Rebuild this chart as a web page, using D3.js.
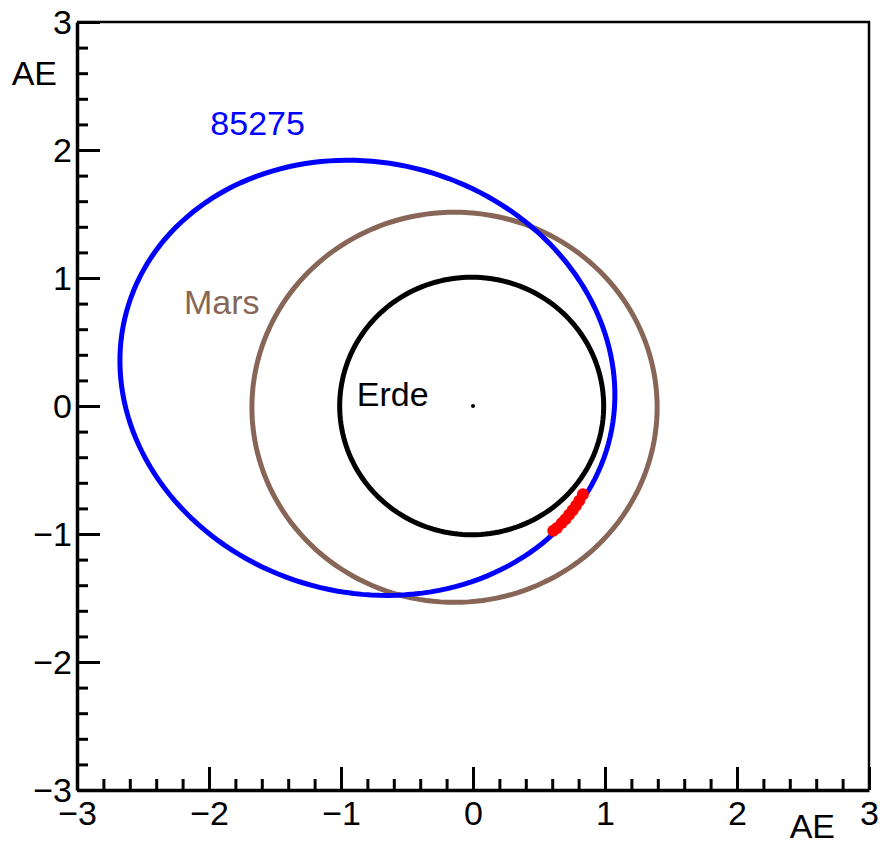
<!DOCTYPE html>
<html>
<head>
<meta charset="utf-8">
<script src="https://cdn.jsdelivr.net/npm/d3@7"></script>
<style>
  body { margin: 0; background: #fff; }
  text { font-family: "Liberation Sans", Arial, sans-serif; }
</style>
</head>
<body>
<div id="chart"></div>
<script>
var svgWidth = 880;
var svgHeight = 841;

// orbits (AE): ellipse centre, semi-axes, tilt of first axis
var orbitNames = ["Erde", "Mars", "85275"];
var centerX = [-0.01, -0.14, -0.80];
var centerY = [0.0, -0.01, 0.22];
var semiA = [1.0, 1.535, 1.898];
var semiB = [1.006, 1.524, 1.674];
var tiltDeg = [0, 0, -19.3];
var orbitColors = ["#000000", "#876657", "#0000ff"];

// observed positions of 85275 (red)
var obsX = [0.608, 0.636, 0.672, 0.700, 0.728, 0.755, 0.780, 0.805, 0.833];
var obsY = [-0.975, -0.953, -0.915, -0.885, -0.850, -0.815, -0.780, -0.740, -0.690];

// sun
var sunX = [0];
var sunY = [0];

var majorTicks = [-3, -2, -1, 0, 1, 2, 3];

var x = d3.scaleLinear().domain([-3, 3]).range([77, 869]);
var y = d3.scaleLinear().domain([-3, 3]).range([790, 22]);

var fontSize = "34px";

var svg = d3.select("#chart")
  .append("svg")
  .attr("width", svgWidth)
  .attr("height", svgHeight);

// frame top / right
svg.append("path")
  .attr("d", `M${x(-3)},${y(3)}H${x(3)}V${y(-3)}`)
  .attr("fill", "none")
  .attr("stroke", "#000")
  .attr("stroke-width", 2.5);

var minorTicks = d3.range(-30, 31, 2).map(d => d / 10).filter(d => Math.abs(d % 1) > 0.01);

function fmt(d) { return d < 0 ? "\u2212" + Math.abs(d) : "" + d; }

// minor ticks
svg.append("g")
  .attr("transform", `translate(0,${y(-3)})`)
  .call(d3.axisBottom(x).tickValues(minorTicks).tickSize(-11).tickSizeOuter(0).tickFormat(""))
  .call(g => g.select(".domain").remove())
  .call(g => g.selectAll("line").attr("stroke-width", 3));

svg.append("g")
  .attr("transform", `translate(${x(-3)},0)`)
  .call(d3.axisLeft(y).tickValues(minorTicks).tickSize(-11).tickSizeOuter(0).tickFormat(""))
  .call(g => g.select(".domain").remove())
  .call(g => g.selectAll("line").attr("stroke-width", 3));

// major ticks + labels
var xAxis = svg.append("g")
  .attr("transform", `translate(0,${y(-3)})`)
  .call(d3.axisBottom(x).tickValues(majorTicks).tickSize(-23).tickSizeOuter(0).tickPadding(11).tickFormat(fmt));

var yAxis = svg.append("g")
  .attr("transform", `translate(${x(-3)},0)`)
  .call(d3.axisLeft(y).tickValues(majorTicks).tickSize(-23).tickSizeOuter(0).tickPadding(5).tickFormat(fmt));

[xAxis, yAxis].forEach(function(g) {
  g.select(".domain").attr("stroke-width", 3.5);
  g.selectAll("line").attr("stroke-width", 3);
  g.selectAll("text")
    .attr("fill", "#000")
    .style("font-size", fontSize)
    .style("font-family", "Liberation Sans, Arial, sans-serif");
});
xAxis.selectAll("text").attr("dy", "0.71em");
yAxis.selectAll("text").attr("dy", "0.35em");

// axis titles
svg.append("text")
  .attr("x", 835)
  .attr("y", 838)
  .attr("text-anchor", "end")
  .style("font-size", fontSize)
  .text("AE");

svg.append("text")
  .attr("x", 57)
  .attr("y", 85)
  .attr("text-anchor", "end")
  .style("font-size", fontSize)
  .text("AE");

// orbits
var line = d3.line().x(d => x(d[0])).y(d => y(d[1]));
var angles = d3.range(0, 361, 2).map(d => d * Math.PI / 180);

orbitNames.forEach(function(name, i) {
  var t = tiltDeg[i] * Math.PI / 180;
  var pts = angles.map(function(u) {
    var px = semiA[i] * Math.cos(u), py = semiB[i] * Math.sin(u);
    return [centerX[i] + px * Math.cos(t) - py * Math.sin(t),
            centerY[i] + px * Math.sin(t) + py * Math.cos(t)];
  });
  svg.append("path")
    .datum(pts)
    .attr("d", line)
    .attr("fill", "none")
    .attr("stroke", orbitColors[i])
    .attr("stroke-width", 5);
});

// observed points
svg.selectAll("circle.obs")
  .data(obsX.map((d, i) => [d, obsY[i]]))
  .enter()
  .append("circle")
  .attr("class", "obs")
  .attr("cx", d => x(d[0]))
  .attr("cy", d => y(d[1]))
  .attr("r", 6)
  .attr("fill", "#ff0000");

// sun
svg.append("circle")
  .attr("cx", x(sunX[0]))
  .attr("cy", y(sunY[0]))
  .attr("r", 2)
  .attr("fill", "#000");

// orbit labels
var labelX = [-0.88, -2.19, -1.99];
var labelY = [0.0, 0.72, 2.12];
orbitNames.forEach(function(name, i) {
  svg.append("text")
    .attr("x", x(labelX[i]))
    .attr("y", y(labelY[i]))
    .attr("fill", orbitColors[i])
    .style("font-size", fontSize)
    .text(name);
});
</script>
</body>
</html>
